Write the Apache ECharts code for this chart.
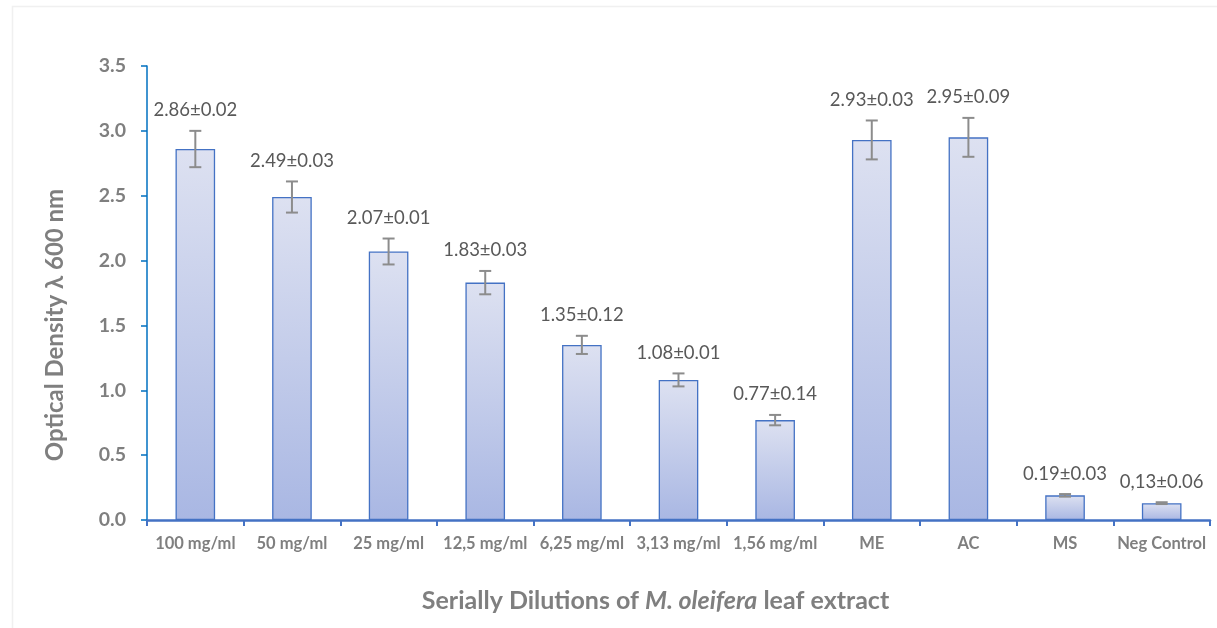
<!DOCTYPE html>
<html>
<head>
<meta charset="utf-8">
<script src="https://cdn.jsdelivr.net/npm/echarts@6/dist/echarts.min.js"></script>
<style>html,body{margin:0;padding:0;background:#fff}#c{width:1217px;height:628px}</style>
</head>
<body>
<div id="c"></div>
<script>
const categories = ['100 mg/ml','50 mg/ml','25 mg/ml','12,5 mg/ml','6,25 mg/ml','3,13 mg/ml','1,56 mg/ml','ME','AC','MS','Neg Control'];
const values = [2.86, 2.49, 2.07, 1.83, 1.35, 1.08, 0.77, 2.93, 2.95, 0.19, 0.13];
const errors = [0.14, 0.12, 0.10, 0.09, 0.07, 0.05, 0.04, 0.15, 0.15, 0.01, 0.007];
const valueLabels = ['2.86±0.02','2.49±0.03','2.07±0.01','1.83±0.03','1.35±0.12','1.08±0.01','0.77±0.14','2.93±0.03','2.95±0.09','0.19±0.03','0,13±0.06'];
const yTicks = [0, 0.5, 1.0, 1.5, 2.0, 2.5, 3.0, 3.5];

const chart = echarts.init(document.getElementById('c'), null, {renderer:'canvas'});
const gray = '#7f7f7f';
const errData = values.map((v,i)=>[i, v - errors[i], v + errors[i], valueLabels[i]]);

chart.setOption({
  backgroundColor:'#fff',
  animation:false,
  graphic:[{type:'rect', shape:{x:12.5,y:6.5,width:1220,height:640}, style:{fill:'none', stroke:'#f0f0f0', lineWidth:1.5}, silent:true, z:-10}],
  grid:{left:147, right:7, top:66, bottom:108, containLabel:false},
  xAxis:{
    type:'category', data:categories,
    axisLine:{lineStyle:{color:'#4472c4', width:2.5}},
    axisTick:{show:true, alignWithLabel:false, length:6, lineStyle:{color:'#4472c4', width:2}},
    axisLabel:{color:gray, fontFamily:'Lato', fontWeight:'bold', fontSize:16.5, margin:15, interval:0},
    name:'{a|Serially Dilutions of }{b|M. oleifera}{a| leaf extract}',
    nameLocation:'middle', nameGap:68,
    nameTextStyle:{padding:[0,46,0,0], rich:{
      a:{color:gray, fontFamily:'Lato', fontWeight:'bold', fontSize:25},
      b:{color:gray, fontFamily:'Lato', fontWeight:'bold', fontStyle:'italic', fontSize:25}
    }}
  },
  yAxis:{
    type:'value', min:0, max:3.5, interval:0.5,
    axisLine:{show:true, lineStyle:{color:'#0070c0', width:1.5}},
    axisTick:{show:true, length:6, lineStyle:{color:'#0070c0', width:1.5}},
    splitLine:{show:false},
    axisLabel:{color:gray, fontFamily:'Lato', fontWeight:'bold', fontSize:19.5, margin:21, formatter:v=>v.toFixed(1)},
    name:'Optical Density λ 600 nm', nameLocation:'middle', nameGap:80, nameRotate:90,
    nameTextStyle:{color:gray, fontFamily:'Lato', fontWeight:'bold', fontSize:24, padding:[0,64,0,0]}
  },
  series:[
    {
      type:'bar', data:values, barCategoryGap:'59%',
      itemStyle:{
        color:new echarts.graphic.LinearGradient(0,0,0,1,[{offset:0,color:'#dde1f1'},{offset:1,color:'#a9b7e3'}]),
        borderColor:'#4472c4', borderWidth:1.3
      }
    },
    {
      type:'custom', data:errData, z:10,
      renderItem:(params, api)=>{
        const i = api.value(0);
        const lo = api.coord([i, api.value(1)]);
        const hi = api.coord([i, api.value(2)]);
        const x = lo[0], hw = 6;
        const st = {stroke:'#8c8c8c', lineWidth:2};
        return {type:'group', children:[
          {type:'line', shape:{x1:x,y1:lo[1],x2:x,y2:hi[1]}, style:st},
          {type:'line', shape:{x1:x-hw,y1:lo[1],x2:x+hw,y2:lo[1]}, style:st},
          {type:'line', shape:{x1:x-hw,y1:hi[1],x2:x+hw,y2:hi[1]}, style:st},
          {type:'text', x:x, y:hi[1]-11, style:{text:valueLabels[params.dataIndex], fill:'#595959', font:'18.5px Lato', align:'center', verticalAlign:'bottom'}}
        ]};
      }
    }
  ]
});
</script>
</body>
</html>
